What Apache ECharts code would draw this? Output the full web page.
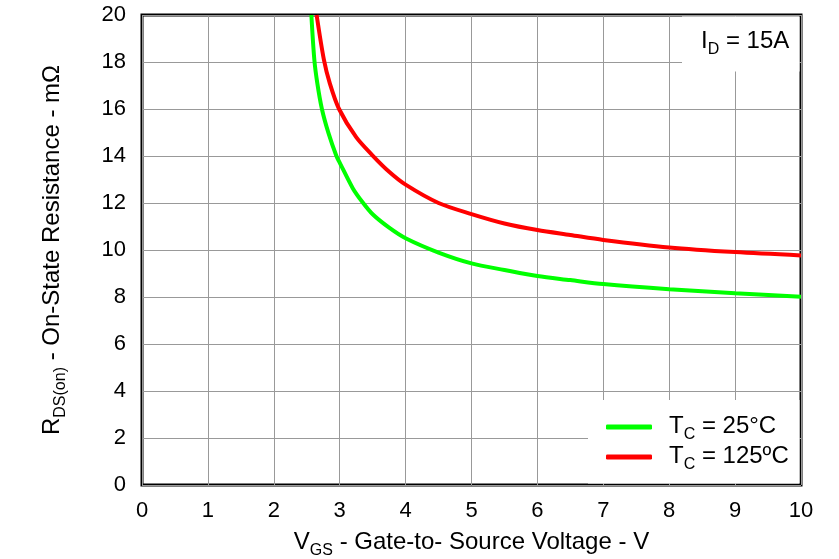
<!DOCTYPE html>
<html>
<head>
<meta charset="utf-8">
<script src="https://cdn.jsdelivr.net/npm/echarts@6/dist/echarts.min.js"></script>
<style>html,body{margin:0;padding:0;background:#fff}#c{width:839px;height:559px}</style>
</head>
<body>
<div id="c"></div>
<script>
// Data
const xTicks = [0,1,2,3,4,5,6,7,8,9,10];
const yTicks = [0,2,4,6,8,10,12,14,16,18,20];
const vgs25 = [2.57, 2.615, 2.66, 2.73, 2.83, 2.95, 3.0, 3.2, 3.35, 3.5, 3.75, 4.0, 4.5, 5.0, 5.5, 6.0, 6.5, 7.0, 8.0, 9.0, 10.0];
const rds25 = [20.0, 18.1, 17.1, 16.0, 14.97, 14.0, 13.72, 12.62, 12.02, 11.52, 10.95, 10.5, 9.89, 9.43, 9.15, 8.89, 8.72, 8.55, 8.33, 8.16, 8.01];
const vgs125 = [2.65, 2.76, 2.85, 2.99, 3.25, 3.5, 3.75, 4.0, 4.5, 5.0, 5.5, 6.0, 6.5, 7.0, 8.0, 9.0, 10.0];
const rds125 = [20.0, 18.1, 17.09, 16.0, 14.8, 14.02, 13.33, 12.78, 12.0, 11.53, 11.13, 10.85, 10.64, 10.43, 10.11, 9.91, 9.77];
const seriesNames = ['T_C = 25°C', 'T_C = 125ºC'];

const zip = (xs, ys) => xs.map((x, i) => [x, ys[i]]);
const FONT = 'Liberation Sans, Arial, sans-serif';

const chart = echarts.init(document.getElementById('c'));
const sub = {fontSize: 16, fontFamily: FONT, fontWeight: 'normal', color: '#000', verticalAlign: 'top', lineHeight: 14, padding: [13, 0, 0, 0]};
const main = {fontSize: 24, fontFamily: FONT, fontWeight: 'normal', color: '#000', verticalAlign: 'top', lineHeight: 26};
chart.setOption({
  animation: false,
  backgroundColor: '#fff',
  grid: {left: 142, right: 38, top: 15, bottom: 74, outerBoundsMode: 'none', containLabel: false,
         show: true, borderColor: '#000', borderWidth: 3, backgroundColor: 'transparent'},
  title: {
    text: '{a|I}{s|D}{a| = 15A}',
    left: 701, top: 29, padding: 0,
    textStyle: {fontWeight: 'normal', rich: {a: main, s: sub}}
  },
  legend: {
    orient: 'vertical', left: 606, top: 414, itemWidth: 46, itemHeight: 5, itemGap: 1,
    padding: 0, icon: 'roundRect',
    data: seriesNames,
    formatter: function (n) {
      const p = n.split('_');
      const r = p[1].split(' ');
      return '{f|' + p[0] + '}{s|' + r[0] + '}{a| ' + r.slice(1).join(' ') + '}';
    },
    textStyle: {rich: {f: Object.assign({}, main, {padding: [0, 0, 0, 12]}), a: main, s: sub}}
  },
  graphic: [
    {type: 'rect', z: 1, shape: {x: 588, y: 400, width: 211.5, height: 83.5}, style: {fill: '#fff'}},
    {type: 'rect', z: 1, shape: {x: 682, y: 16.5, width: 117.5, height: 55}, style: {fill: '#fff'}}
  ],
  xAxis: {
    type: 'value', min: 0, max: 10, interval: 1,
    name: '{a|V}{s|GS}{a| - Gate-to- Source Voltage - V}',
    nameLocation: 'middle', nameGap: 45,
    nameTextStyle: {rich: {a: main, s: sub}},
    axisLine: {show: false}, axisTick: {show: false},
    axisLabel: {fontSize: 22, fontFamily: FONT, color: '#000', margin: 15},
    splitLine: {show: true, lineStyle: {color: '#999', width: 1}}
  },
  yAxis: {
    type: 'value', min: 0, max: 20, interval: 2,
    name: '{a|R}{s|DS(on)}{a| - On-State Resistance - mΩ}',
    nameLocation: 'middle', nameGap: 76, nameRotate: 90,
    nameTextStyle: {rich: {a: main, s: sub}},
    axisLine: {show: false}, axisTick: {show: false},
    axisLabel: {fontSize: 22, fontFamily: FONT, color: '#000', margin: 16},
    splitLine: {show: true, lineStyle: {color: '#999', width: 1}}
  },
  series: [
    {name: seriesNames[0], type: 'line', data: zip(vgs25, rds25), smooth: 0.3, symbol: 'none', clip: true,
     lineStyle: {color: '#00ff00', width: 4}, itemStyle: {color: '#00ff00'}},
    {name: seriesNames[1], type: 'line', data: zip(vgs125, rds125), smooth: 0.3, symbol: 'none', clip: true,
     lineStyle: {color: '#ff0000', width: 4}, itemStyle: {color: '#ff0000'}}
  ]
});
</script>
</body>
</html>
